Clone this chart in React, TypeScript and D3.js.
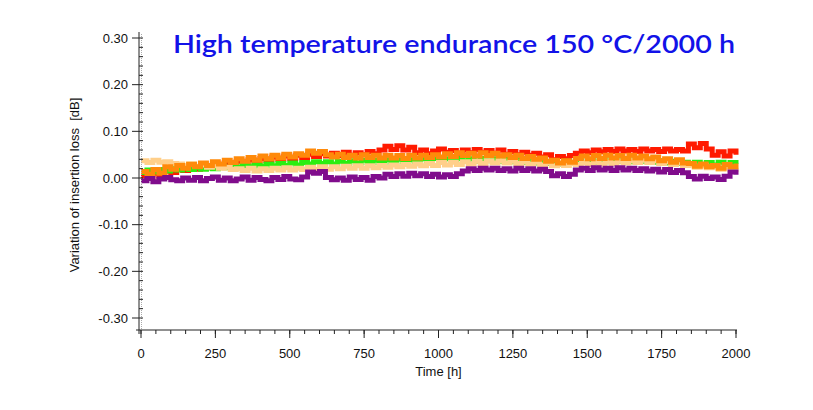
import React from 'react';
import * as d3 from 'd3';

// Time samples every 20 h, 0..2000 h
const timeStep = 20;
const hours = d3.range(0, 2000 + timeStep, timeStep);

// Variation of insertion loss [dB] per sample
const redLoss = [
    0.005, 0.001, 0.010, 0.004, 0.015, 0.012,
    0.020, 0.016, 0.024, 0.019, 0.027, 0.022, 0.030, 0.026, 0.033, 0.028,
    0.036, 0.031, 0.039, 0.034, 0.042, 0.037, 0.045, 0.040, 0.047, 0.042, 0.049, 0.044, 0.051, 0.046, 0.052,
    0.047, 0.053, 0.048, 0.055, 0.049, 0.054, 0.050, 0.057, 0.052, 0.060,
    0.068, 0.061, 0.069, 0.060, 0.066,
    0.054, 0.060, 0.052, 0.058, 0.062, 0.055, 0.059, 0.053, 0.060, 0.054, 0.061, 0.055, 0.059, 0.053, 0.060,
    0.051, 0.057, 0.050, 0.055, 0.049, 0.053, 0.045, 0.050, 0.039, 0.046, 0.041, 0.048,
    0.053, 0.058, 0.054, 0.060, 0.056, 0.061, 0.057, 0.062, 0.058, 0.061, 0.057, 0.062, 0.058, 0.061, 0.057, 0.062, 0.058, 0.061, 0.058,
    0.073, 0.065, 0.074, 0.062,
    0.049, 0.056, 0.047, 0.058, 0.050,
];

const greenLoss = [
    0.012, 0.017, 0.013, 0.018, 0.015, 0.020,
    0.017, 0.022, 0.018, 0.023, 0.019, 0.022, 0.020, 0.025, 0.022, 0.026,
    0.023, 0.027, 0.024, 0.028, 0.025, 0.030, 0.026, 0.031, 0.027, 0.032, 0.028, 0.033, 0.030, 0.035, 0.031,
    0.035, 0.030, 0.036, 0.031, 0.037, 0.032, 0.038, 0.033, 0.038, 0.033,
    0.039, 0.034, 0.040, 0.035, 0.039,
    0.035, 0.041, 0.036, 0.042, 0.037, 0.041, 0.036, 0.042, 0.037, 0.041, 0.036, 0.042, 0.037, 0.041, 0.036,
    0.040, 0.035, 0.039, 0.034, 0.037, 0.032, 0.036, 0.031, 0.035, 0.030, 0.036, 0.032,
    0.037, 0.033, 0.039, 0.034, 0.040, 0.035, 0.041, 0.036, 0.040, 0.035, 0.041, 0.036, 0.039, 0.034, 0.037, 0.032, 0.036, 0.031, 0.034,
    0.029, 0.034, 0.028, 0.033,
    0.028, 0.034, 0.029, 0.033, 0.030,
];

const peachLoss = [
    0.037, 0.033, 0.038, 0.034, 0.035, 0.031,
    0.030, 0.026, 0.031, 0.025, 0.028, 0.023, 0.026, 0.021, 0.023, 0.018,
    0.020, 0.016, 0.021, 0.015, 0.020, 0.016, 0.021, 0.017, 0.022, 0.017, 0.021, 0.018, 0.023, 0.019, 0.024,
    0.019, 0.024, 0.020, 0.025, 0.021, 0.026, 0.021, 0.026, 0.022, 0.027,
    0.023, 0.028, 0.024, 0.029, 0.025,
    0.030, 0.026, 0.031, 0.027, 0.033, 0.028, 0.034, 0.029, 0.035, 0.030, 0.036, 0.031, 0.037, 0.032, 0.037,
    0.032, 0.036, 0.031, 0.035, 0.030, 0.034, 0.028, 0.032, 0.026, 0.030, 0.027, 0.031,
    0.029, 0.033, 0.029, 0.034, 0.030, 0.035, 0.031, 0.036, 0.032, 0.037, 0.033, 0.038, 0.033, 0.037, 0.031, 0.035, 0.029, 0.032, 0.027,
    0.028, 0.023, 0.027, 0.022,
    0.024, 0.019, 0.023, 0.018, 0.022,
];

const orangeLoss = [
    0.014, 0.008, 0.018, 0.010, 0.024, 0.019,
    0.027, 0.021, 0.029, 0.024, 0.032, 0.027, 0.035, 0.030, 0.038, 0.033,
    0.041, 0.036, 0.044, 0.038, 0.047, 0.041, 0.049, 0.043, 0.051, 0.045, 0.052, 0.049, 0.058, 0.053, 0.057,
    0.050, 0.045, 0.051, 0.044, 0.049, 0.043, 0.050, 0.044, 0.049, 0.043,
    0.049, 0.043, 0.048, 0.042, 0.049,
    0.043, 0.049, 0.044, 0.050, 0.045, 0.052, 0.046, 0.054, 0.048, 0.053, 0.047, 0.054, 0.048, 0.053, 0.047,
    0.050, 0.044, 0.049, 0.042, 0.046, 0.040, 0.043, 0.036, 0.038, 0.032, 0.037, 0.034,
    0.042, 0.047, 0.041, 0.048, 0.042, 0.049, 0.043, 0.048, 0.042, 0.049, 0.043, 0.047, 0.041, 0.045, 0.037, 0.041, 0.034, 0.039, 0.032,
    0.031, 0.025, 0.030, 0.024,
    0.027, 0.021, 0.029, 0.024, 0.031,
];

const purpleLoss = [
    -0.006, -0.001, -0.008, -0.002, 0.001, -0.004,
    -0.006, 0.000, -0.005, 0.001, -0.006, -0.001, 0.002, -0.005, 0.000, -0.006,
    -0.002, 0.002, -0.005, 0.001, -0.003, -0.006, 0.001, -0.003, 0.003, -0.002, -0.004, 0.002, 0.013, 0.010, 0.014,
    0.001, -0.004, 0.000, -0.005, 0.002, -0.003, 0.001, -0.005, 0.003, 0.000,
    0.008, 0.003, 0.009, 0.004, 0.010,
    0.005, 0.009, 0.003, 0.008, 0.002, 0.007, 0.003, 0.009, 0.015, 0.020, 0.016, 0.021, 0.017, 0.021, 0.016,
    0.020, 0.015, 0.021, 0.016, 0.020, 0.015, 0.019, 0.014, 0.005, 0.009, 0.003, 0.008,
    0.017, 0.021, 0.016, 0.022, 0.017, 0.021, 0.016, 0.022, 0.017, 0.021, 0.016, 0.020, 0.015, 0.019, 0.013, 0.018, 0.012, 0.016, 0.011,
    0.003, -0.002, 0.004, -0.001,
    0.002, -0.003, 0.004, 0.013, 0.007,
];

// drawing order: first is at the back
const series = [
    { name: 'red', color: '#ff1a00', values: redLoss },
    { name: 'green', color: '#2bee10', values: greenLoss },
    { name: 'peach', color: '#ffcf8a', values: peachLoss },
    { name: 'orange', color: '#ff8a0a', values: orangeLoss },
    { name: 'purple', color: '#800c8c', values: purpleLoss },
];

const xMajor = d3.range(0, 2001, 250);
const xMinor = d3.range(0, 2001, 50);
const yMajor = d3.range(-3, 4).map((d) => d / 10);
const yMinor = d3.range(-15, 16).map((d) => d / 50);

const title = 'High temperature endurance 150 °C/2000 h';
const xTitle = 'Time [h]';
const yTitle = 'Variation of insertion loss  [dB]';

// plain hyphen for negatives, two decimals
const fmtY = (v: number) => d3.format('.2f')(v).replace('\u2212', '-');

export default function App() {
    const width = 813;
    const height = 410;
    const axisX = 139;
    const axisY = 330;

    const x = d3.scaleLinear().domain([0, 2000]).range([141, 736]);
    const y = d3.scaleLinear().domain([-0.3, 0.3]).range([318, 38]);

    const line = d3.line<number>()
        .x((d, i) => x(hours[i]))
        .y((d) => y(d))
        .curve(d3.curveStepAfter);

    const font = '"Liberation Sans", Arial, sans-serif';

    return (
        <svg width={width} height={height} style={{ position: 'absolute', left: 0, top: 0, background: '#fff' }}>
            {/* series */}
            <g fill="none" strokeWidth={5} strokeLinejoin="miter">
                {series.map((s) => (
                    <path key={s.name} d={line(s.values) ?? ''} stroke={s.color} />
                ))}
            </g>

            {/* dotted line next to y axis */}
            <line x1={axisX + 2.5} x2={axisX + 2.5} y1={y(0.3) - 4} y2={axisY} stroke="#aaa" strokeWidth={1} strokeDasharray="1,1" />

            {/* y axis */}
            <g stroke="#222" strokeWidth={1}>
                <line x1={axisX} x2={axisX} y1={y(0.3) - 6} y2={axisY + 4} />
                {yMinor.map((v) => (
                    <line key={'ym' + v} x1={axisX} x2={axisX + 4} y1={y(v)} y2={y(v)} />
                ))}
                {yMajor.map((v) => (
                    <line key={'yM' + v} x1={axisX - 7} x2={axisX} y1={y(v)} y2={y(v)} />
                ))}
            </g>
            <g fontFamily={font} fontSize={13} fill="#111" textAnchor="end">
                {yMajor.map((v) => (
                    <text key={'yl' + v} x={axisX - 11} y={y(v)} dy="0.35em">{fmtY(v)}</text>
                ))}
            </g>
            <text transform={`translate(79,${y(0) + 7}) rotate(-90)`} fontFamily={font} fontSize={13}
                fill="#111" textAnchor="middle" style={{ whiteSpace: 'pre' }}>{yTitle}</text>

            {/* x axis */}
            <g stroke="#222" strokeWidth={1}>
                <line x1={axisX - 3} x2={x(2000) + 1} y1={axisY} y2={axisY} />
                {xMinor.map((v) => (
                    <line key={'xm' + v} x1={x(v)} x2={x(v)} y1={axisY} y2={axisY + 4} />
                ))}
                {xMajor.map((v) => (
                    <line key={'xM' + v} x1={x(v)} x2={x(v)} y1={axisY} y2={axisY + 8} />
                ))}
            </g>
            <g fontFamily={font} fontSize={13} fill="#111" textAnchor="middle">
                {xMajor.map((v) => (
                    <text key={'xl' + v} x={x(v)} y={358}>{v}</text>
                ))}
            </g>
            <text x={x(1000)} y={376} fontFamily={font} fontSize={13} fill="#111" textAnchor="middle">{xTitle}</text>

            {/* title */}
            <text x={173} y={53} fontFamily='"Lato", "DejaVu Sans", sans-serif' fontWeight={600} fontSize={24}
                fill="#1212e8" textLength={562} lengthAdjust="spacingAndGlyphs">{title}</text>
        </svg>
    );
}
